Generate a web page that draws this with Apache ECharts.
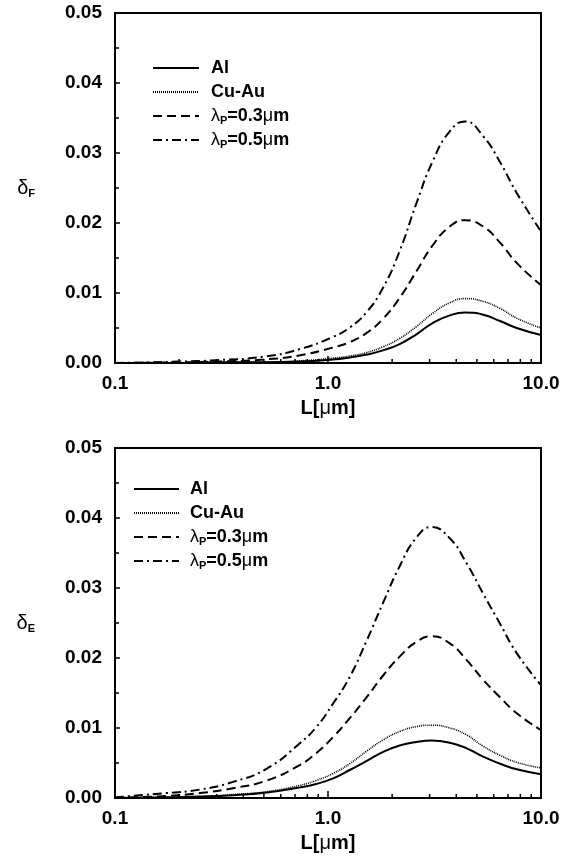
<!DOCTYPE html>
<html><head><meta charset="utf-8">
<script src="https://cdn.jsdelivr.net/npm/echarts@6/dist/echarts.min.js"></script>
<style>html,body{margin:0;padding:0;background:#fff}#c{width:576px;height:858px}</style>
</head><body><div id="c"></div><script>
// ---------- data ----------
const seriesNames = ['Al', 'Cu-Au', 'lp03', 'lp05'];
const yTickLabels = ['0.00', '0.01', '0.02', '0.03', '0.04', '0.05'];
const xTickLabels = {0.1: '0.1', 1: '1.0', 10: '10.0'};
const minorTicksX = [0.2, 0.3, 0.4, 0.5, 0.6, 0.7, 0.8, 0.9, 2, 3, 4, 5, 6, 7, 8, 9];

// top panel (delta_F)
const topL    = [0.1, 0.2, 0.3, 0.5, 0.74, 1.05, 1.27, 1.52, 1.81, 2.17, 2.6, 3.1, 3.73, 4.4, 5.35, 6.42, 7.69, 10];
const topAl   = [0.0000, 0.0000, 0.0001, 0.0001, 0.0002, 0.0005, 0.0008, 0.0012, 0.0018, 0.0027, 0.0041, 0.0057, 0.0068, 0.0072, 0.0069, 0.0060, 0.0050, 0.0040];
const topCuAu = [0.0000, 0.0000, 0.0001, 0.0001, 0.0003, 0.0007, 0.0010, 0.0015, 0.0023, 0.0035, 0.0052, 0.0071, 0.0086, 0.0092, 0.0088, 0.0078, 0.0064, 0.0050];
const topLp03 = [0.0000, 0.0001, 0.0002, 0.0005, 0.0011, 0.0022, 0.0030, 0.0043, 0.0063, 0.0093, 0.0131, 0.0168, 0.0195, 0.0204, 0.0195, 0.0172, 0.0143, 0.0111];
const topLp05 = [0.0000, 0.0002, 0.0004, 0.0009, 0.0020, 0.0037, 0.0051, 0.0073, 0.0107, 0.0160, 0.0228, 0.0288, 0.0331, 0.0345, 0.0324, 0.0287, 0.0243, 0.0188];

// bottom panel (delta_E)
const botL    = [0.1, 0.174, 0.25, 0.358, 0.516, 0.736, 0.88, 1.057, 1.265, 1.52, 1.815, 2.17, 2.6, 3.06, 3.73, 4.48, 5.35, 6.42, 7.69, 10];
const botAl   = [0.0000, 0.0001, 0.0002, 0.0004, 0.0008, 0.0015, 0.0020, 0.0028, 0.0040, 0.0053, 0.0066, 0.0075, 0.0080, 0.0082, 0.0079, 0.0071, 0.0059, 0.0049, 0.0041, 0.0034];
const botCuAu = [0.0000, 0.0001, 0.0002, 0.0005, 0.0009, 0.0018, 0.0025, 0.0035, 0.0049, 0.0067, 0.0083, 0.0095, 0.0102, 0.0104, 0.0100, 0.0090, 0.0074, 0.0061, 0.0051, 0.0043];
const botLp03 = [0.0000, 0.0003, 0.0007, 0.0014, 0.0025, 0.0047, 0.0064, 0.0087, 0.0114, 0.0144, 0.0175, 0.0202, 0.0223, 0.0231, 0.0221, 0.0197, 0.0169, 0.0144, 0.0121, 0.0097];
const botLp05 = [0.0001, 0.0007, 0.0012, 0.0023, 0.0042, 0.0078, 0.0101, 0.0135, 0.0173, 0.0225, 0.0279, 0.0331, 0.0372, 0.0387, 0.0371, 0.0335, 0.0292, 0.0249, 0.0207, 0.0161];

// ---------- build ----------
const FONT = 'Liberation Sans, Arial, Helvetica, sans-serif';
const pair = (xs, ys) => xs.map((x, i) => [x, ys[i]]);
const styles = {
  'Al':    {type: 'solid', width: 2},
  'Cu-Au': {type: [1, 1], width: 1.6},
  'lp03':  {type: [9, 5], width: 2},
  'lp05':  {type: [9, 4, 2, 4], width: 2}
};
const legendRich = {
  b: {fontFamily: FONT, fontWeight: 'bold', fontSize: 18, lineHeight: 20, color: '#000'},
  g: {fontFamily: FONT, fontWeight: 'normal', fontSize: 18, lineHeight: 20, color: '#000'},
  s: {fontFamily: FONT, fontWeight: 'bold', fontSize: 11, lineHeight: 12, verticalAlign: 'bottom', color: '#000'}
};
const legendFmt = n => ({
  'Al': '{b|Al}', 'Cu-Au': '{b|Cu-Au}',
  'lp03': '{g|λ}{s|P}{b|=0.3}{g|μ}{b|m}',
  'lp05': '{g|λ}{s|P}{b|=0.5}{g|μ}{b|m}'
})[n];

function mkLegend(left, top, w, pad) {
  return {
    data: seriesNames, orient: 'vertical', left: left, top: top,
    itemWidth: w, itemHeight: 2, itemGap: 4, padding: 0,
    selectedMode: false,
    itemStyle: {color: 'rgba(0,0,0,0)', borderWidth: 0},
    formatter: legendFmt,
    textStyle: {padding: [0, 0, 0, pad], lineHeight: 20, rich: legendRich}
  };
}
function mkX(i) {
  return {
    type: 'log', logBase: 10, min: 0.1, max: 10, gridIndex: i,
    name: '{b|L[}{g|μ}{b|m]}', nameLocation: 'middle', nameGap: 35,
    nameTextStyle: {rich: {
      b: {fontFamily: FONT, fontWeight: 'bold', fontSize: 20, color: '#000'},
      g: {fontFamily: FONT, fontWeight: 'normal', fontSize: 20, color: '#000'}}},
    axisLine: {lineStyle: {color: '#000', width: 2}},
    axisTick: {inside: true, length: 7, lineStyle: {color: '#000', width: 1.5}},
    axisLabel: {margin: 11, fontFamily: FONT, fontWeight: 'bold', fontSize: 19, color: '#000',
      formatter: v => xTickLabels[Math.round(v * 10) / 10] || ''},
    splitLine: {show: false}
  };
}
function mkY(i, sub) {
  return {
    type: 'value', min: 0, max: 0.05, interval: 0.01, gridIndex: i,
    name: '{d|δ}{s|' + sub + '}', nameLocation: 'middle', nameRotate: 0, nameGap: 80,
    nameTextStyle: {rich: {
      d: {fontFamily: FONT, fontWeight: 'normal', fontSize: 20, lineHeight: 22, color: '#000'},
      s: {fontFamily: FONT, fontWeight: 'bold', fontSize: 11, lineHeight: 13, verticalAlign: 'bottom', color: '#000'}}},
    axisLine: {show: true, lineStyle: {color: '#000', width: 2}},
    axisTick: {inside: true, length: 5, lineStyle: {color: '#000', width: 1.5}},
    minorTick: {show: true, splitNumber: 2, length: 4, lineStyle: {color: '#000', width: 1.5}},
    axisLabel: {margin: 13, fontFamily: FONT, fontWeight: 'bold', fontSize: 19, color: '#000',
      formatter: v => yTickLabels[Math.round(v * 100)]},
    splitLine: {show: false}, minorSplitLine: {show: false}
  };
}
function mkLines(i, xs, sets) {
  return seriesNames.map((n, k) => ({
    name: n, type: 'line', xAxisIndex: i, yAxisIndex: i,
    data: pair(xs, sets[k]), smooth: 0.5, symbol: 'circle', showSymbol: false,
    lineStyle: Object.assign({color: '#000'}, styles[n]), itemStyle: {color: '#000'},
    z: 3, silent: true
  }));
}
function mkMinor(i) {
  return {
    type: 'custom', xAxisIndex: i, yAxisIndex: i, silent: true, z: 4,
    data: minorTicksX.map(v => [v, 0]),
    renderItem: (p, api) => {
      const c = api.coord([api.value(0), 0]);
      return {type: 'line', shape: {x1: c[0], y1: c[1], x2: c[0], y2: c[1] - 4},
              style: {stroke: '#000', lineWidth: 1.5}};
    }
  };
}

const option = {
  animation: false,
  backgroundColor: '#fff',
  grid: [
    {left: 115, top: 13, width: 426, height: 350, show: true, borderColor: '#000', borderWidth: 2},
    {left: 115, top: 448, width: 426, height: 350, show: true, borderColor: '#000', borderWidth: 2}
  ],
  legend: [mkLegend(152, 58, 46, 7), mkLegend(133, 479, 45, 6)],
  xAxis: [mkX(0), mkX(1)],
  yAxis: [mkY(0, 'F'), mkY(1, 'E')],
  series: [
    ...mkLines(0, topL, [topAl, topCuAu, topLp03, topLp05]),
    ...mkLines(1, botL, [botAl, botCuAu, botLp03, botLp05]),
    mkMinor(0), mkMinor(1)
  ]
};
const chart = echarts.init(document.getElementById('c'), null, {renderer: 'canvas'});
chart.setOption(option);
</script></body></html>
